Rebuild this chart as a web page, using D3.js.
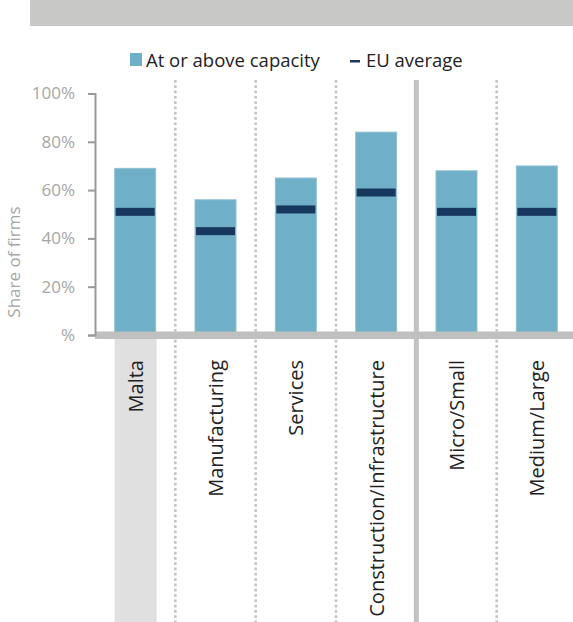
<!DOCTYPE html>
<html>
<head>
<meta charset="utf-8">
<script src="https://cdn.jsdelivr.net/npm/d3@7"></script>
<style>
body { margin: 0; background: #fff; }
svg text { font-family: "Open Sans", "Noto Sans", sans-serif; }
</style>
</head>
<body>
<svg id="svg1" width="573" height="622"></svg>
<script>
// values
var categories = ["Malta", "Manufacturing", "Services", "Construction/Infrastructure", "Micro/Small", "Medium/Large"];
var capacity = [69, 56, 65, 84, 68, 70];
var euAverage = [51, 43, 52, 59, 51, 51];
var yTicks = [0, 20, 40, 60, 80, 100];
// group boundary: sectors end after this category
var groupEnd = "Construction/Infrastructure";

var svg = d3.select("#svg1");

var x = d3.scaleBand().domain(categories).range([95, 577]).paddingInner(0.49).paddingOuter(0.245);
var y = d3.scaleLinear().domain([0, 100]).range([335, 93.5]);

// grey banner at the top
svg.append("rect")
    .attr("x", 30).attr("y", 0)
    .attr("width", 543).attr("height", 26)
    .attr("fill", "#c8c8c6");

// highlight behind Malta label
svg.append("rect")
    .attr("x", x("Malta"))
    .attr("y", 339)
    .attr("width", x.bandwidth() + 1)
    .attr("height", 622 - 339)
    .attr("fill", "#e0e0e0");

// separators between categories
var seps = categories.slice(0, -1);
svg.selectAll(".sep").data(seps).enter().append("line")
    .attr("class", "sep")
    .attr("x1", d => x(d) + x.bandwidth() + x.step() * x.paddingInner() / 2)
    .attr("x2", d => x(d) + x.bandwidth() + x.step() * x.paddingInner() / 2)
    .attr("y1", 80)
    .attr("y2", 622)
    .attr("stroke", "#c3c3c3")
    .attr("stroke-width", d => d === groupEnd ? 5 : 2.5)
    .attr("stroke-dasharray", d => d === groupEnd ? null : "2.7,2.6");

// bars
svg.selectAll(".bar").data(categories).enter().append("rect")
    .attr("class", "bar")
    .attr("x", d => x(d))
    .attr("y", (d, i) => y(capacity[i]))
    .attr("width", x.bandwidth())
    .attr("height", (d, i) => y(0) - y(capacity[i]))
    .attr("fill", "#6fb0c8")
    .attr("stroke", "#8fc1d4")
    .attr("stroke-width", 1);

// EU average markers
svg.selectAll(".eu").data(categories).enter().append("rect")
    .attr("class", "eu")
    .attr("x", d => x(d) + 1)
    .attr("y", (d, i) => y(euAverage[i]) - 4)
    .attr("width", x.bandwidth() - 2)
    .attr("height", 8)
    .attr("fill", "#17375e");

// x axis band
svg.append("rect")
    .attr("x", 95).attr("y", 331.5)
    .attr("width", 478).attr("height", 7.5)
    .attr("fill", "#c0c0c0");

// y axis
var yAxis = svg.append("g")
    .attr("transform", "translate(95,0)")
    .call(d3.axisLeft(y)
        .tickValues(yTicks)
        .tickSize(7)
        .tickPadding(13)
        .tickFormat(d => d === 0 ? "%" : d + "%"));
yAxis.select(".domain").attr("stroke", "#999").attr("stroke-width", 2);
yAxis.selectAll(".tick line").attr("stroke", "#999").attr("stroke-width", 2);
yAxis.selectAll(".tick text")
    .attr("fill", "#a6a6a6")
    .style("font-size", "17px")
    .style("font-family", "'Open Sans', sans-serif");

svg.append("text")
    .attr("transform", "translate(20,262) rotate(-90)")
    .attr("text-anchor", "middle")
    .attr("fill", "#a6a6a6")
    .style("font-size", "17px")
    .text("Share of firms");

// category labels
svg.selectAll(".xlab").data(categories).enter().append("text")
    .attr("class", "xlab")
    .attr("transform", d => "translate(" + (x(d) + x.bandwidth() / 2 + 7.5) + ",360) rotate(-90)")
    .attr("text-anchor", "end")
    .attr("fill", "#222")
    .style("font-size", "20px")
    .text(d => d);

// legend
var legend = svg.append("g");
legend.append("rect")
    .attr("x", 130).attr("y", 53)
    .attr("width", 12).attr("height", 13)
    .attr("fill", "#6fb0c8");
legend.append("text")
    .attr("x", 146).attr("y", 67)
    .attr("fill", "#222")
    .style("font-size", "18.5px")
    .text("At or above capacity");
legend.append("rect")
    .attr("x", 350).attr("y", 60)
    .attr("width", 10).attr("height", 2.5)
    .attr("fill", "#17375e");
legend.append("text")
    .attr("x", 366).attr("y", 67)
    .attr("fill", "#222")
    .style("font-size", "18.5px")
    .text("EU average");
</script>
</body>
</html>
